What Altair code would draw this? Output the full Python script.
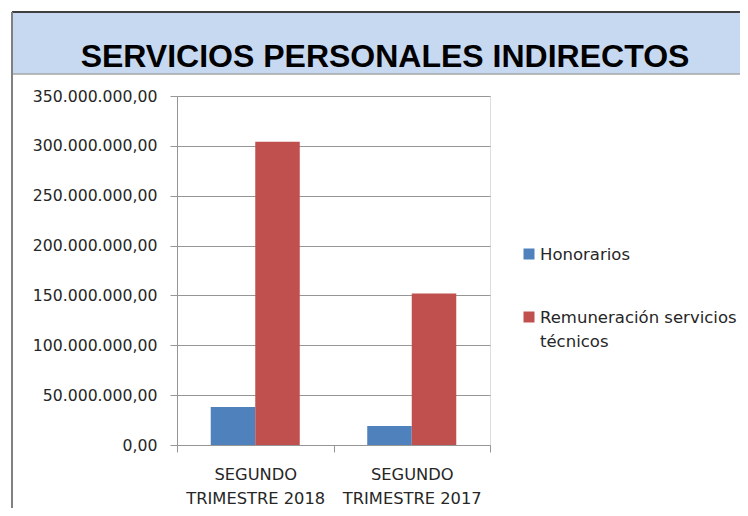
import altair as alt
import pandas as pd

# ---- data ----
periodos = ["SEGUNDO TRIMESTRE 2018", "SEGUNDO TRIMESTRE 2017"]
series = ["Honorarios", "Remuneración servicios técnicos"]
honorarios = [38_000_000, 19_000_000]
remuneracion = [304_000_000, 152_000_000]
colores = ["#4f81bd", "#c0504d"]
y_ticks = [0, 50_000_000, 100_000_000, 150_000_000, 200_000_000,
           250_000_000, 300_000_000, 350_000_000]
titulo = "SERVICIOS PERSONALES INDIRECTOS"

rows = []
for i, p in enumerate(periodos):
    rows.append({"periodo": p, "serie": series[0], "valor": honorarios[i]})
    rows.append({"periodo": p, "serie": series[1], "valor": remuneracion[i]})
df = pd.DataFrame(rows)
one = pd.DataFrame({"a": [0]})

FONT = "DejaVu Sans"
TXT = "#262626"
GRID = "#969696"

bars = alt.Chart(df).mark_bar().encode(
    x=alt.X("periodo:N", sort=periodos, title=None,
            scale=alt.Scale(paddingInner=0, paddingOuter=0),
            axis=alt.Axis(tickBand="extent", labelAngle=0, tickSize=7,
                          domainColor=GRID, tickColor=GRID,
                          labelFont=FONT, labelFontSize=16.3, labelColor=TXT,
                          labelLineHeight=24.5, labelPadding=14,
                          labelExpr="[slice(datum.label, 0, 7), slice(datum.label, 8)]")),
    xOffset=alt.XOffset("serie:N", sort=series,
                        scale=alt.Scale(paddingInner=0, paddingOuter=0.758)),
    y=alt.Y("valor:Q", title=None,
            scale=alt.Scale(domain=[0, 350_000_000], nice=False),
            axis=alt.Axis(values=y_ticks, format=",.2f", tickSize=7,
                          domainColor=GRID, tickColor=GRID, gridColor=GRID,
                          labelFont=FONT, labelFontSize=15.7, labelColor=TXT,
                          labelPadding=13)),
    color=alt.Color("serie:N", scale=alt.Scale(domain=series, range=colores),
                    legend=None),
)

band = alt.Chart(one).mark_rect(color="#c6d9f1").encode(
    x=alt.value(-165), x2=alt.value(571), y=alt.value(-84), y2=alt.value(-22))
top_line = alt.Chart(one).mark_rule(color="#404040", strokeWidth=2).encode(
    x=alt.value(-165), x2=alt.value(571), y=alt.value(-84))
bottom_band_line = alt.Chart(one).mark_rule(color="#a6a6a6", strokeWidth=1.5).encode(
    x=alt.value(-165), x2=alt.value(571), y=alt.value(-22))
left_line = alt.Chart(one).mark_rule(color="#808080", strokeWidth=2).encode(
    x=alt.value(-165), y=alt.value(-84), y2=alt.value(420))
title = alt.Chart(one).mark_text(
    text=titulo, font="Liberation Sans", fontWeight="bold", fontSize=32,
    color="#000", align="center", baseline="middle").encode(
    x=alt.value(208), y=alt.value(-39))

leg = []
ys = [254 - 96, 317 - 96]
for i, s in enumerate(series):
    leg.append(alt.Chart(one).mark_square(size=121, color=colores[i], opacity=1).encode(
        x=alt.value(529 - 177), y=alt.value(ys[i])))
    lines = ["Remuneración servicios", "técnicos"] if i == 1 else [s]
    leg.append(alt.Chart(one).mark_text(
        text=lines, font=FONT, fontSize=16.5, color=TXT, align="left",
        baseline="alphabetic", lineHeight=24).encode(
        x=alt.value(540 - 177), y=alt.value(ys[i] + 6)))

chart = alt.layer(band, top_line, bottom_band_line, left_line, title, bars, *leg).properties(
    width=313, height=349,
    padding={"left": 169, "top": 88, "right": 250, "bottom": 63},
    autosize=alt.AutoSizeParams(type="none"),
).configure_view(stroke=None).configure(
    locale={"number": {"decimal": ",", "thousands": ".", "grouping": [3],
                       "currency": ["", ""]}}
)

chart.save("out.html", embed_options={"renderer": "svg", "actions": False})
